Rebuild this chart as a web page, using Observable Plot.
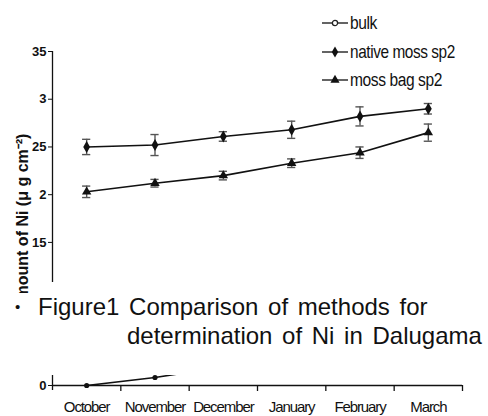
<!DOCTYPE html>
<html>
<head>
<meta charset="utf-8">
<script src="https://cdn.jsdelivr.net/npm/d3@7"></script>
<script src="https://cdn.jsdelivr.net/npm/@observablehq/plot@0.6"></script>
<style>
  body { margin: 0; background: #fff; }
  #wrap { position: relative; width: 488px; height: 416px; overflow: hidden; background: #fff; font-family: "Liberation Sans", Arial, sans-serif; color: #111; }
  #upper, #lower, #legend, #caption { position: absolute; left: 0; }
  #upper { top: 0; }
  #lower { top: 360px; }
  #legend { top: 0; left: 300px; }
  #caption { top: 293px; width: 488px; height: 61px; background: #fff; font-size: 24px; line-height: 29px; word-spacing: 3px; white-space: nowrap; }
  #caption .l1 { position: absolute; left: 38px; top: -1px; }
  #caption .l2 { position: absolute; left: 127px; top: 28px; }
  #caption .b { position: absolute; left: 15px; top: -1px; font-size: 15px; }
</style>
</head>
<body>
<div id="wrap">
  <div id="upper"></div>
  <div id="lower"></div>
  <div id="legend"></div>
  <div id="caption"><span class="b">•</span><span class="l1">Figure1 Comparison of methods for</span><span class="l2">determination of Ni in Dalugama</span></div>
</div>
<script>
// ---- data ----
const months = ["October", "November", "December", "January", "February", "March"];
const nativeMoss = [2.50, 2.52, 2.61, 2.68, 2.82, 2.90];
const nativeMossErr = [0.08, 0.11, 0.05, 0.09, 0.10, 0.055];
const mossBag = [2.03, 2.12, 2.20, 2.33, 2.44, 2.65];
const mossBagErr = [0.06, 0.04, 0.045, 0.045, 0.06, 0.09];
const bulk = [0, 0.08, 0.185];          // only the start is visible (lower panel)
const yTicks = [3.5, 3, 2.5, 2, 1.5];
const yTickLabels = ["35", "3", "25", "2", "15"];
const seriesNames = ["bulk", "native moss sp2", "moss bag sp2"];
const yLabel = "Amount of Ni (μ g cm⁻²)";

const font = '"Liberation Sans", Arial, sans-serif';

function rows(vals, errs, name) {
  return vals.map((v, i) => ({ series: name, month: months[i], i: i + 0.5, v, lo: errs ? v - errs[i] : v, hi: errs ? v + errs[i] : v }));
}
const nat = rows(nativeMoss, nativeMossErr, seriesNames[1]);
const bag = rows(mossBag, mossBagErr, seriesNames[2]);
const blk = rows(bulk, null, seriesNames[0]);
const capHalf = 0.06;

// ---- upper panel ----
const upper = Plot.plot({
  width: 488, height: 293,
  marginLeft: 52, marginRight: 26, marginTop: 51, marginBottom: 11,
  style: { background: "transparent", fontFamily: font, color: "#111", overflow: "visible" },
  x: { domain: [0, 6], axis: null },
  y: { domain: [1.08, 3.5] },
  marks: [
    Plot.axisY({ ticks: yTicks, tickFormat: d => yTickLabels[yTicks.indexOf(d)], tickSize: 4, tickPadding: 2, fontSize: 13, fontWeight: "bold", label: null, stroke: "#111" }),
    Plot.ruleX([0], { stroke: "#111", strokeWidth: 1.3 }),
    ...[nat, bag].flatMap(d => [
      Plot.ruleX(d, { x: "i", y1: "lo", y2: "hi", stroke: "#555", strokeWidth: 1.4 }),
      Plot.ruleY(d, { y: "lo", x1: r => r.i - capHalf, x2: r => r.i + capHalf, stroke: "#555", strokeWidth: 1.4 }),
      Plot.ruleY(d, { y: "hi", x1: r => r.i - capHalf, x2: r => r.i + capHalf, stroke: "#555", strokeWidth: 1.4 })
    ]),
    Plot.line(nat, { x: "i", y: "v", stroke: "#111", strokeWidth: 1.6 }),
    Plot.line(bag, { x: "i", y: "v", stroke: "#111", strokeWidth: 1.6 }),
    Plot.dot(nat, { x: "i", y: "v", symbol: "diamond", r: 3.6, fill: "#111" }),
    Plot.dot(bag, { x: "i", y: "v", symbol: "triangle", r: 3.5, fill: "#111" })
  ]
});
// y-axis title (its start is hidden behind the caption box, as in the reference)
d3.select(upper).append("text")
  .attr("transform", "translate(22,311) rotate(-90)")
  .attr("text-anchor", "start").attr("dominant-baseline", "central")
  .style("font-size", "16px").style("font-weight", "bold").style("font-family", font)
  .attr("fill", "#111").text(yLabel);
document.getElementById("upper").append(upper);

// ---- lower panel (broken axis, zero level) ----
const lower = Plot.plot({
  width: 488, height: 56,
  marginLeft: 52, marginRight: 26, marginTop: 15, marginBottom: 31,
  style: { background: "transparent", fontFamily: font, color: "#111", overflow: "visible" },
  x: { domain: [0, 6] },
  y: { domain: [0, 0.1] },
  marks: [
    Plot.ruleY([0], { stroke: "#111", strokeWidth: 1.3 }),
    Plot.ruleX([0], { y1: -0.05, y2: 0.1, stroke: "#111", strokeWidth: 1.3 }),
    Plot.axisY({ ticks: [0], tickFormat: d => String(d), tickSize: 4, tickPadding: 2, fontSize: 13, fontWeight: "bold", label: null }),
    Plot.axisX({ ticks: [1, 2, 3, 4, 5, 6], tickFormat: () => "", tickSize: 6, label: null, strokeWidth: 1.3 }),
    Plot.axisX({ ticks: months.map((m, i) => i + 0.5), tickFormat: d => months[d - 0.5], tickSize: 0, tickPadding: 16, fontSize: 15, label: null }),
    Plot.line(blk, { x: "i", y: "v", stroke: "#111", strokeWidth: 1.6, clip: true }),
    Plot.dot(blk.slice(0, 2), { x: "i", y: "v", r: 2.6, fill: "#111" })
  ]
});
lower.querySelectorAll('[aria-label="x-axis tick label"] text').forEach(t => t.setAttribute("letter-spacing", "-1.1"));
document.getElementById("lower").append(lower);

// ---- legend ----
const lg = d3.select("#legend").append("svg").attr("width", 188).attr("height", 95)
  .style("font-family", font);
const legendY = [23, 52, 80];
const legendW = [27, 105, 92];
seriesNames.forEach((name, k) => {
  const g = lg.append("g").attr("transform", `translate(0,${legendY[k]})`);
  g.append("line").attr("x1", 22).attr("x2", 48).attr("y1", 0).attr("y2", 0).attr("stroke", "#222").attr("stroke-width", 1.4);
  if (k === 0) g.append("circle").attr("cx", 35).attr("cy", 0).attr("r", 2.6).attr("fill", "#fff").attr("stroke", "#222").attr("stroke-width", 1.3);
  else g.append("path").attr("transform", "translate(35,0)").attr("d", d3.symbol(k === 1 ? d3.symbolDiamond : d3.symbolTriangle, 36)()).attr("fill", "#111");
  const t = g.append("text").attr("x", 0).attr("y", 0)
    .style("font-size", "19px").style("letter-spacing", "-0.5px").attr("fill", "#111").text(name);
  const w = t.node().getComputedTextLength() || legendW[k];
  t.attr("transform", `translate(50,6) scale(${legendW[k] / w},1)`);
});
</script>
</body>
</html>
